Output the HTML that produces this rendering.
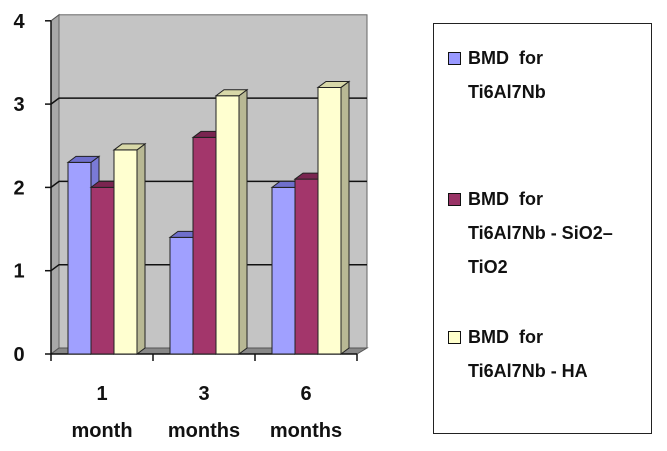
<!DOCTYPE html>
<html><head><meta charset="utf-8"><style>
body{margin:0;background:#fff;width:667px;height:451px;overflow:hidden;font-family:"Liberation Sans",sans-serif}
.lg{position:absolute;left:433px;top:23px;width:219px;height:411px;border:1.5px solid #222;box-sizing:border-box;background:#fff}
.it{position:absolute;left:14px;font-weight:bold;font-size:18px;line-height:34px;color:#111}
.sw{position:absolute;left:0;top:11px;width:11px;height:11px;border:1.5px solid #111}
.tx{margin-left:20px}
</style></head><body>
<svg id="chart" width="667" height="451" style="position:absolute;left:0;top:0"></svg>
<div class="lg">
 <div class="it" style="top:17px"><div class="sw" style="background:#9999ff"></div><div class="tx">BMD&nbsp; for<br>Ti6Al7Nb</div></div>
 <div class="it" style="top:158px"><div class="sw" style="background:#993366"></div><div class="tx">BMD&nbsp; for<br>Ti6Al7Nb - SiO2–<br>TiO2</div></div>
 <div class="it" style="top:296px"><div class="sw" style="background:#ffffcc"></div><div class="tx">BMD&nbsp; for<br>Ti6Al7Nb - HA</div></div>
</div>
<script>
const categories=["1|month","3|months","6|months"];
const seriesA=[2.3,1.4,2.0];
const seriesB=[2.0,2.6,2.1];
const seriesC=[2.45,3.1,3.2];
const yTicks=[0,1,2,3,4];
const NS="http://www.w3.org/2000/svg";
const svg=document.getElementById('chart');
const x0=51,y0=354,unit=83.3,grp=102,dx=8,dy=-6;
const y=v=>y0-v*unit;
function el(t,a,p){const e=document.createElementNS(NS,t);for(const k in a)e.setAttribute(k,a[k]);(p||svg).appendChild(e);return e;}
let w=el('polygon',{points:`${x0},${y(4)} ${x0+dx},${y(4)+dy} ${x0+dx},${y0+dy} ${x0},${y0}`,fill:'#a8a8a8',stroke:'#555'});

let b=el('rect',{x:x0+dx,y:y(4)+dy,width:308,height:4*unit,fill:'#c4c4c4',stroke:'#666'});

let f=el('polygon',{points:`${x0},${y0} ${x0+dx},${y0+dy} ${x0+dx+308},${y0+dy} ${x0+306},${y0}`,fill:'#888',stroke:'#555'});

yTicks.forEach(t=>{
 if(t>0&&t<4){const g=el('polyline',{points:`${x0},${y(t)} ${x0+dx},${y(t)+dy} ${x0+dx+308},${y(t)+dy}`,fill:'none',stroke:'#111','stroke-width':1.5});
 }
 const tk=el('line',{x1:x0-6,x2:x0,y1:y(t),y2:y(t),stroke:'#111','stroke-width':1.5});
 
 const l=el('text',{x:19,y:y(t)+7,'text-anchor':'middle','font-size':20,'font-weight':'bold',fill:'#111'});l.textContent=t;
 
});
let ya=el('line',{x1:x0,x2:x0,y1:y(4),y2:y0,stroke:'#111','stroke-width':1.5});

let xa=el('line',{x1:x0,x2:x0+306,y1:y0,y2:y0,stroke:'#111','stroke-width':1.5});

const series=[[seriesA,'#a0a0ff','#6f6fcc','#7a7ad6'],[seriesB,'#a3366b','#7a2550','#8a2d5a'],[seriesC,'#ffffd0','#d8d8a8','#b8b894']];
categories.forEach((c,i)=>{
 const tk=el('line',{x1:x0+i*grp,x2:x0+i*grp,y1:y0,y2:y0+7,stroke:'#111','stroke-width':1.5});
 
 if(i==categories.length-1){const t2=el('line',{x1:x0+(i+1)*grp,x2:x0+(i+1)*grp,y1:y0,y2:y0+7,stroke:'#111','stroke-width':1.5});}
 const parts=c.split('|');
 parts.forEach((p,j)=>{const t=el('text',{x:x0+i*grp+grp/2,y:400+j*37,'text-anchor':'middle','font-size':20,'font-weight':'bold',fill:'#111'});t.textContent=p;
 });
 series.forEach((s,k)=>{
  const v=s[0][i],bx=x0+i*grp+17+k*23,bw=23,top=y(v);
  const g=el('g',{});
  
  
  el('polygon',{points:`${bx+bw},${top} ${bx+bw+dx},${top+dy} ${bx+bw+dx},${y0+dy} ${bx+bw},${y0}`,fill:s[3],stroke:'#222','stroke-width':1},g);
  el('rect',{x:bx,y:top,width:bw,height:y0-top,fill:s[1],stroke:'#222','stroke-width':1},g);
  el('polygon',{points:`${bx},${top} ${bx+dx},${top+dy} ${bx+bw+dx},${top+dy} ${bx+bw},${top}`,fill:s[2],stroke:'#222','stroke-width':1},g);
 });
});
</script>
</body></html>
